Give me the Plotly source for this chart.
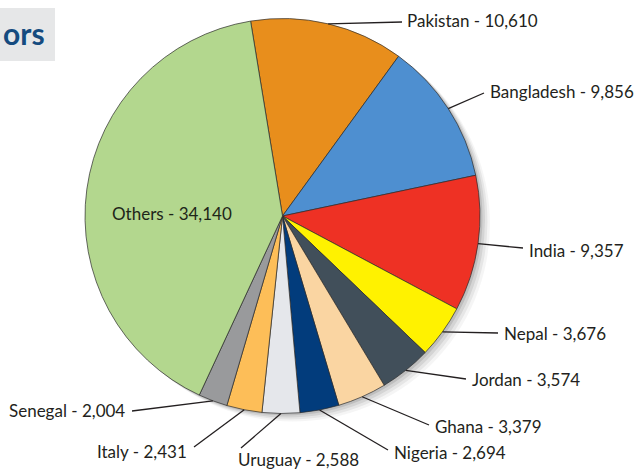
import math
import plotly.graph_objects as go

# ---- data ----
countries = ["Pakistan", "Bangladesh", "India", "Nepal", "Jordan", "Ghana",
             "Nigeria", "Uruguay", "Italy", "Senegal", "Others"]
contributors = [10610, 9856, 9357, 3676, 3574, 3379, 2694, 2588, 2431, 2004, 34140]
colors = ["#E88E1C", "#4E8FD0", "#EE3124", "#FFF200", "#414F5A", "#FAD5A2",
          "#023C7C", "#E5E7EB", "#FDBE58", "#999A9C", "#B3D78E"]

# ---- layout ----
W, H = 640, 476
CX, CY, R = 282.5, 216.0, 197.5          # pie centre / radius in pixels
ROTATION = -9.3
FONT = "Lato"
FS = 17
TXT = "#231F20"

# label placement: line end (x, y), text anchor (x, y), xanchor
label_pos = {
    "Pakistan":   (402, 22, 405, 21, "left"),
    "Bangladesh": (484, 93, 488, 91, "left"),
    "India":      (523, 248, 527, 250, "left"),
    "Nepal":      (498, 333, 502, 333, "left"),
    "Jordan":     (466, 379, 470, 379, "left"),
    "Ghana":      (429, 425, 433, 426, "left"),
    "Nigeria":    (388, 450, 392, 452, "left"),
    "Uruguay":    (241, 448, 236, 459, "left"),
    "Italy":      (194, 447, 189, 451, "right"),
    "Senegal":    (132, 411, 127, 410, "right"),
}

def px(x):
    return x / W

def py(y):
    return 1 - y / H

fig = go.Figure()
fig.add_trace(go.Pie(
    labels=countries, values=contributors, sort=False, direction="clockwise",
    rotation=ROTATION, textinfo="none", hoverinfo="label+value",
    marker=dict(colors=colors, line=dict(color="#2b2b2b", width=0.7)),
    domain=dict(x=[px(CX - R), px(CX + R)], y=[py(CY + R), py(CY - R)]),
    showlegend=False,
))

shapes = []
# soft drop shadow
for (dx, dy, a) in [(10, 8, 0.04), (7.5, 6, 0.06), (5, 4, 0.08), (2.5, 2, 0.10)]:
    shapes.append(dict(type="circle", xref="paper", yref="paper", layer="below",
                       x0=px(CX - R + dx), x1=px(CX + R + dx),
                       y0=py(CY + R + dy), y1=py(CY - R + dy),
                       fillcolor=f"rgba(0,0,0,{a})", line=dict(width=0)))
# title box (cropped)
shapes.append(dict(type="rect", xref="paper", yref="paper", layer="below",
                   x0=0, x1=px(55), y0=py(61), y1=py(8),
                   fillcolor="#E6E7E8", line=dict(width=0)))

annotations = [dict(text="<b>ors</b>", x=px(0.5), y=py(33), xref="paper", yref="paper",
                    xanchor="left", yanchor="middle", showarrow=False,
                    font=dict(family=FONT, size=30, color="#154B7F"))]

total = sum(contributors)
cum = ROTATION
for name, val in zip(countries, contributors):
    span = val / total * 360
    mid = math.radians(cum + span / 2)
    cum += span
    text = f"{name} - {val:,}"
    if name in label_pos:
        lx, ly, tx, ty, anc = label_pos[name]
        ex = CX + R * math.sin(mid)
        ey = CY - R * math.cos(mid)
        shapes.append(dict(type="line", xref="paper", yref="paper",
                           x0=px(ex), y0=py(ey), x1=px(lx), y1=py(ly),
                           line=dict(color=TXT, width=1.3)))
        annotations.append(dict(text=text, x=px(tx), y=py(ty), xref="paper", yref="paper",
                                xanchor=anc, yanchor="middle", showarrow=False,
                                font=dict(family=FONT, size=FS, color=TXT)))
    else:
        annotations.append(dict(text=text, x=px(172), y=py(214), xref="paper", yref="paper",
                                xanchor="center", yanchor="middle", showarrow=False,
                                font=dict(family=FONT, size=FS, color="#1E2619")))

fig.update_layout(width=W, height=H, margin=dict(l=0, r=0, t=0, b=0),
                  paper_bgcolor="white", plot_bgcolor="white",
                  shapes=shapes, annotations=annotations)
fig.write_html("out.html", config={"displayModeBar": False},
               post_script="document.body.style.margin='0';document.body.style.overflow='hidden';")
